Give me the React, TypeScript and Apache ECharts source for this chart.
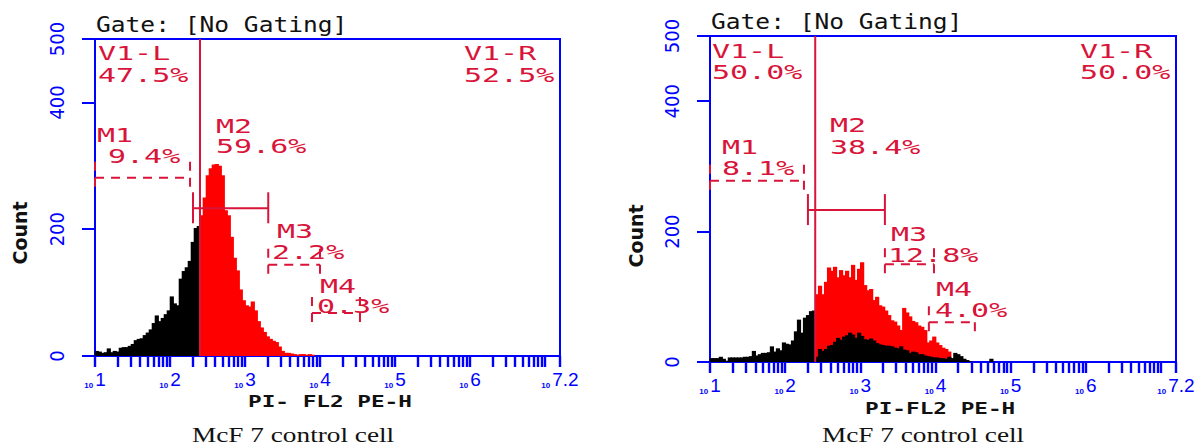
import React, { useEffect, useRef } from "react";
import * as echarts from "echarts";

// ---------- data (x in log10 units of PI-FL2 PE-H, y in counts) ----------
const BIN = 0.04;
const V1_GATE = 2.4;

const leftBlackStart = 1.0;
const leftBlackCounts = [8, 7, 5, 6, 12, 6, 8, 7, 13, 14, 14, 16, 19, 25, 27, 28, 33, 37, 42, 52, 64, 55, 60, 66, 72, 94, 83, 80, 122, 134, 140, 150, 180, 202, 205];
const leftRedStart = 2.4;
const leftRedCounts = [222, 250, 285, 296, 302, 303, 300, 285, 230, 222, 188, 155, 135, 105, 88, 80, 78, 86, 72, 55, 45, 38, 31, 27, 24, 22, 15, 8, 5, 5, 4, 3, 2, 3, 3, 2, 3, 2];

const rightBlackStart = 1.0;
const rightBlackCounts = [6, 6, 6, 8, 5, 2, 7, 7, 7, 7, 7, 8, 8, 9, 17, 10, 12, 14, 14, 15, 24, 16, 21, 18, 30, 28, 27, 33, 47, 65, 45, 68, 72, 78, 79];
const rightRedStart = 2.4;
const rightRedCounts = [104, 117, 104, 123, 145, 140, 146, 130, 141, 133, 140, 130, 149, 126, 143, 153, 118, 110, 112, 95, 100, 87, 85, 79, 72, 64, 62, 56, 49, 83, 76, 70, 63, 61, 56, 54, 49, 30, 33, 39, 30, 26, 22, 20, 16];
const rightOverlayStart = 2.4;
const rightOverlayCounts = [8, 20, 17, 20, 25, 26, 31, 37, 34, 39, 41, 45, 42, 37, 45, 40, 35, 34, 36, 33, 29, 27, 26, 25, 25, 24, 22, 21, 24, 19, 18, 14, 16, 15, 12, 12, 10, 9, 8, 7, 7, 6, 6, 5, 8, 6, 14, 12, 9, 5, 3, 1, 0, 0, 0, 0, 0, 0, 5];

const markerNames = ["M1", "M2", "M3", "M4"];
const markerDashed = [1, 0, 1, 1];
const leftMarkerStart = [1.0, 2.307, 3.31, 3.893];
const leftMarkerEnd = [2.267, 3.31, 4.0, 4.533];
const leftMarkerLevel = [281, 233, 144, 68];
const rightMarkerStart = [1.0, 2.303, 3.327, 3.912];
const rightMarkerEnd = [2.25, 3.327, 3.98, 4.524];
const rightMarkerLevel = [278, 233, 150, 61];

const leftMarkerPct = ["9.4%", "59.6%", "2.2%", "0.3%"];
const rightMarkerPct = ["8.1%", "38.4%", "12.8%", "4.0%"];
const leftGatePct = ["47.5%", "52.5%"];
const rightGatePct = ["50.0%", "50.0%"];
const gateNames = ["V1-L", "V1-R"];

const xTickExponents = [1, 2, 3, 4, 5, 6, 7.2];
const yTickValues = [0, 200, 400, 500];
const X_MIN = 1;
const X_MAX = 7.2;
const Y_MAX = 500;

const gateTitle = "Gate: [No Gating]";
const leftXName = "PI- FL2 PE-H";
const rightXName = "PI-FL2 PE-H";
const yName = "Count";
const caption = "McF 7 control cell";

// ---------- styles ----------
const BLUE = "#0000ff";
const RED = "#d9143a";
const HIST_RED = "#ff0000";
const MONO = "'DejaVu Sans Mono', monospace";
const NARROW = "'Liberation Sans Narrow', 'DejaVu Sans Condensed', 'Liberation Sans', sans-serif";
const SERIF = "'Liberation Serif', 'Times New Roman', serif";

const xMinorTicks: number[] = [];
for (let n = 1; n <= 7; n++) {
  for (let k = 1; k <= 9; k++) {
    const v = n + Math.log10(k);
    if (v <= X_MAX + 1e-9) xMinorTicks.push(v);
  }
}
xMinorTicks.push(X_MAX);

const toBins = (start: number, counts: number[]) => counts.map((c, i) => [start + i * BIN, c]);

const histRender = (color: string) => (params: any, api: any) => {
  const x0 = api.value(0);
  const c = api.value(1);
  const a = api.coord([x0, c]);
  const b = api.coord([x0 + BIN, 0]);
  return {
    type: "rect",
    shape: { x: a[0] - 0.3, y: a[1], width: b[0] - a[0] + 1.2, height: b[1] - a[1] },
    style: { fill: color, stroke: null },
  };
};

const markerRender = (params: any, api: any) => {
  const s = api.value(0);
  const e = api.value(1);
  const lvl = api.value(2);
  const dashed = api.value(3) === 1;
  const a = api.coord([s, lvl]);
  const b = api.coord([e, lvl]);
  const st: any = { stroke: RED, lineWidth: 2, fill: null };
  if (dashed) st.lineDash = [9, 7];
  return {
    type: "group",
    children: [
      { type: "line", shape: { x1: a[0], y1: a[1], x2: b[0], y2: b[1] }, style: st },
      { type: "line", shape: { x1: a[0], y1: a[1] - 16, x2: a[0], y2: a[1] + 15 }, style: st },
      { type: "line", shape: { x1: b[0], y1: b[1] - 16, x2: b[0], y2: b[1] + 15 }, style: st },
    ],
  };
};

const markerData = (s: number[], e: number[], l: number[]) =>
  s.map((v, i) => [v, e[i], l[i], markerDashed[i]]);

const fmtExp = (v: number) => String(Math.round(v * 10) / 10);

const xAxisCfg = (gi: number) => ({
  type: "value",
  gridIndex: gi,
  min: X_MIN,
  max: X_MAX,
  axisLine: { show: true, lineStyle: { color: BLUE, width: 2 } },
  axisTick: { show: true, customValues: xMinorTicks, length: 11, lineStyle: { color: BLUE, width: 2.4 } },
  axisLabel: {
    show: true,
    customValues: xTickExponents,
    margin: 14,
    color: BLUE,
    formatter: (v: number) => `{s|10}{e|${fmtExp(v)}}`,
    rich: {
      s: { fontSize: 8, fontWeight: "bold", fontFamily: "'Liberation Sans', sans-serif", color: BLUE, verticalAlign: "bottom", padding: [0, 2, 0, 0] },
      e: { fontSize: 19, fontFamily: "'Liberation Sans', sans-serif", color: BLUE, verticalAlign: "bottom" },
    },
  },
  splitLine: { show: false },
});

const yAxisCfg = (gi: number) => ({
  type: "value",
  gridIndex: gi,
  min: 0,
  max: Y_MAX,
  interval: 100,
  axisLine: { show: true, lineStyle: { color: BLUE, width: 2 } },
  axisTick: { show: true, customValues: yTickValues, length: 13, lineStyle: { color: BLUE, width: 2 } },
  axisLabel: { show: true, customValues: yTickValues, rotate: 90, margin: 28, color: BLUE, fontSize: 20, fontFamily: NARROW },
  splitLine: { show: false },
});

const txt = (text: string, x: number, y: number, o: any = {}) => ({
  type: "text",
  x,
  y,
  z: 100,
  scaleX: o.sx ?? 1,
  rotation: o.rot ?? 0,
  style: {
    text,
    fill: o.fill ?? RED,
    fontSize: o.size ?? 20,
    fontFamily: o.family ?? MONO,
    fontWeight: o.weight ?? "normal",
    align: o.align ?? "left",
    verticalAlign: "middle",
    textAlign: o.align ?? "left",
    textVerticalAlign: "middle",
  },
});

const RSX = 1.5;

export default function App() {
  const ref = useRef<HTMLDivElement>(null);

  useEffect(() => {
    if (!ref.current) return;
    const chart = echarts.init(ref.current, null, { renderer: "svg" });

    const labelPos = {
      left: {
        gate: [[98, 52.5, 74.5], [464, 52.5, 74.5]],
        name: [[97, 135], [216, 125.5], [277, 230.5], [320, 286]],
        pct: [[108, 155.5], [216, 146], [272, 251.5], [317, 306]],
      },
      right: {
        gate: [[712, 51, 71.5], [1080, 51, 71.5]],
        name: [[722, 146.5], [830, 125], [891, 233.5], [936, 289]],
        pct: [[722, 167.5], [830, 146.5], [888, 255], [935, 310]],
      },
    };

    const graphics: any[] = [];
    const panelTexts = (p: any, gatePct: string[], mPct: string[]) => {
      p.gate.forEach((g: number[], i: number) => {
        graphics.push(txt(gateNames[i], g[0], g[1], { sx: RSX }));
        graphics.push(txt(gatePct[i], g[0], g[2], { sx: RSX }));
      });
      p.name.forEach((g: number[], i: number) => graphics.push(txt(markerNames[i], g[0], g[1], { sx: RSX })));
      p.pct.forEach((g: number[], i: number) => graphics.push(txt(mPct[i], g[0], g[1], { sx: RSX })));
    };
    panelTexts(labelPos.left, leftGatePct, leftMarkerPct);
    panelTexts(labelPos.right, rightGatePct, rightMarkerPct);

    graphics.push(txt(gateTitle, 96, 24.5, { fill: "#111", size: 21, sx: 1.17 }));
    graphics.push(txt(gateTitle, 711, 21.5, { fill: "#111", size: 21, sx: 1.17 }));
    graphics.push(txt(leftXName, 248, 401.5, { fill: "#111", size: 16, weight: "bold", sx: 1.42 }));
    graphics.push(txt(rightXName, 865, 409, { fill: "#111", size: 16, weight: "bold", sx: 1.42 }));
    graphics.push(txt(yName, 20, 233, { fill: "#111", size: 19, weight: "bold", family: "'DejaVu Sans', sans-serif", align: "center", rot: Math.PI / 2 }));
    graphics.push(txt(yName, 636, 236, { fill: "#111", size: 19, weight: "bold", family: "'DejaVu Sans', sans-serif", align: "center", rot: Math.PI / 2 }));
    graphics.push(txt(caption, 192, 434, { fill: "#111", size: 22, family: SERIF, sx: 1.24 }));
    graphics.push(txt(caption, 822, 434, { fill: "#111", size: 22, family: SERIF, sx: 1.24 }));

    const histSeries = (gi: number, data: number[][], color: string, z: number) => ({
      type: "custom",
      xAxisIndex: gi,
      yAxisIndex: gi,
      coordinateSystem: "cartesian2d",
      renderItem: histRender(color),
      data,
      z,
      silent: true,
    });

    const gateLine = (gi: number) => ({
      type: "line",
      xAxisIndex: gi,
      yAxisIndex: gi,
      data: [[V1_GATE, 0], [V1_GATE, Y_MAX]],
      showSymbol: false,
      symbol: "none",
      lineStyle: { color: RED, width: 2 },
      z: 6,
      silent: true,
    });

    const markerSeries = (gi: number, data: number[][]) => ({
      type: "custom",
      xAxisIndex: gi,
      yAxisIndex: gi,
      coordinateSystem: "cartesian2d",
      dimensions: ["s", "e", "lvl", "d"],
      encode: { x: [0, 1], y: 2 },
      renderItem: markerRender,
      data,
      z: 7,
      silent: true,
    });

    chart.setOption({
      animation: false,
      backgroundColor: "#ffffff",
      grid: [
        { left: 95, top: 39, width: 465, height: 317, show: true, borderColor: BLUE, borderWidth: 2, backgroundColor: "transparent" },
        { left: 710, top: 36, width: 466, height: 326, show: true, borderColor: BLUE, borderWidth: 2, backgroundColor: "transparent" },
      ],
      xAxis: [xAxisCfg(0), xAxisCfg(1)],
      yAxis: [yAxisCfg(0), yAxisCfg(1)],
      series: [
        histSeries(0, toBins(leftBlackStart, leftBlackCounts), "#000000", 2),
        histSeries(0, toBins(leftRedStart, leftRedCounts), HIST_RED, 2),
        histSeries(1, toBins(rightBlackStart, rightBlackCounts), "#000000", 2),
        histSeries(1, toBins(rightRedStart, rightRedCounts), HIST_RED, 2),
        histSeries(1, toBins(rightOverlayStart, rightOverlayCounts), "#000000", 3),
        gateLine(0),
        gateLine(1),
        markerSeries(0, markerData(leftMarkerStart, leftMarkerEnd, leftMarkerLevel)),
        markerSeries(1, markerData(rightMarkerStart, rightMarkerEnd, rightMarkerLevel)),
      ],
      graphic: graphics,
    });

    return () => chart.dispose();
  }, []);

  return (
    <div
      ref={ref}
      style={{ position: "absolute", left: 0, top: 0, width: 1202, height: 448, background: "#fff" }}
    />
  );
}
